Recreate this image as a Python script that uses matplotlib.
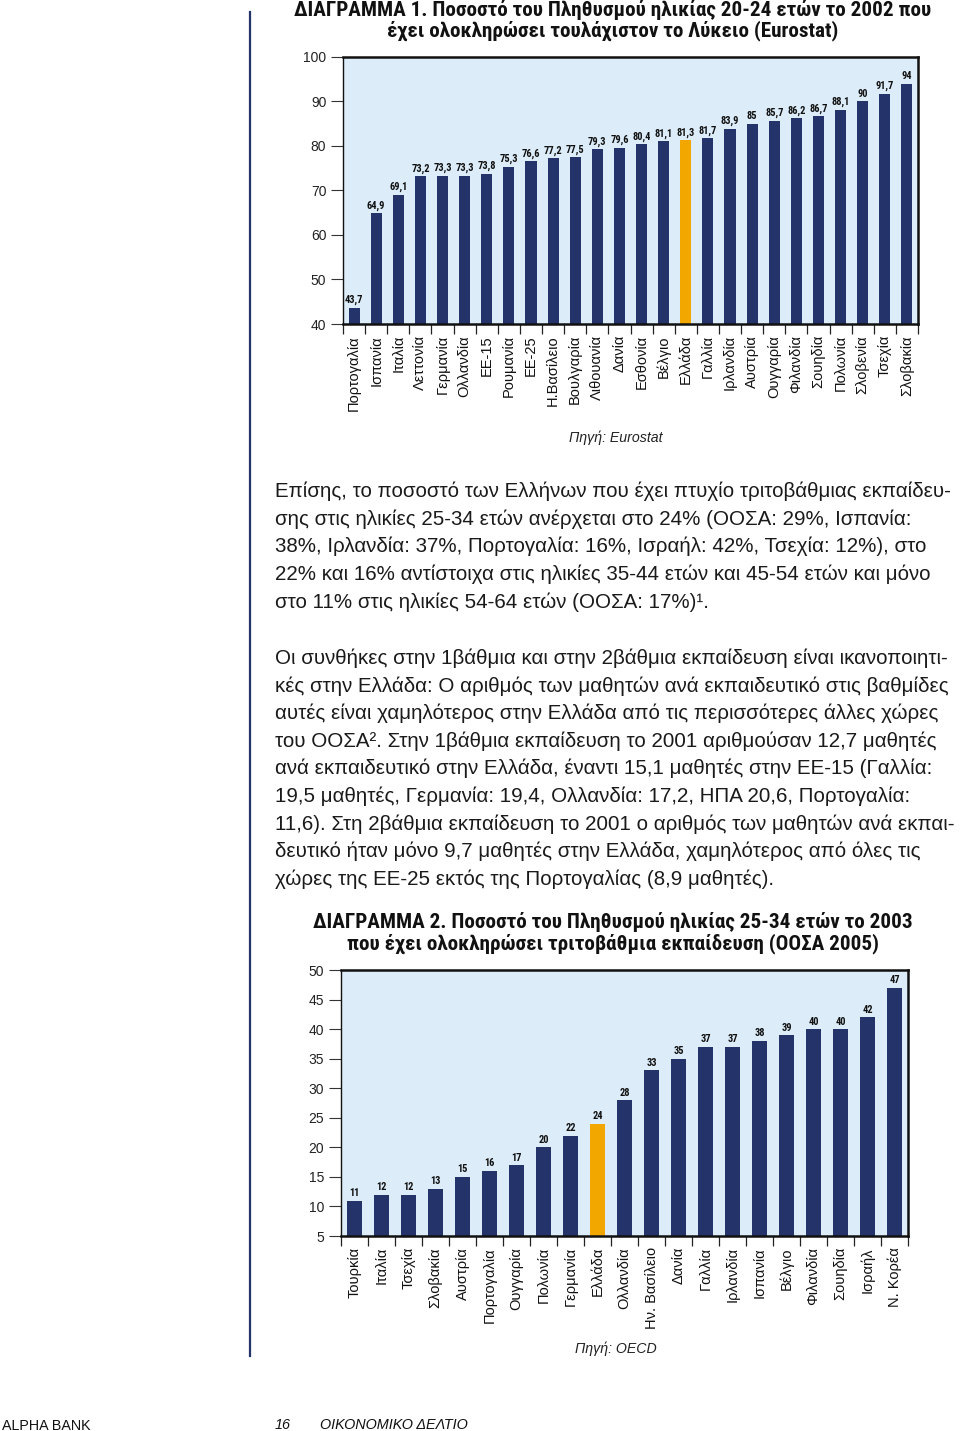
import matplotlib as mpl
mpl.use('Agg')
import matplotlib.pyplot as plt
from matplotlib.lines import Line2D
import numpy as np

W, H = 960, 1431
NAVY = '#25336b'
ORANGE = '#f2a600'
BG = '#dcedf9'
BODY = ['Liberation Sans', 'DejaVu Sans']
NARROW = ['Roboto Condensed', 'DejaVu Sans']

# chart 1: 20-24, at least upper secondary (Eurostat, 2002)
countries1 = ['Πορτογαλία', 'Ισπανία', 'Ιταλία', 'Λεττονία', 'Γερμανία', 'Ολλανδία',
              'ΕΕ-15', 'Ρουμανία', 'ΕΕ-25', 'Η.Βασίλειο', 'Βουλγαρία', 'Λιθουανία',
              'Δανία', 'Εσθονία', 'Βέλγιο', 'Ελλάδα', 'Γαλλία', 'Ιρλανδία', 'Αυστρία',
              'Ουγγαρία', 'Φιλανδία', 'Σουηδία', 'Πολωνία', 'Σλοβενία', 'Τσεχία', 'Σλοβακία']
values1 = [43.7, 64.9, 69.1, 73.2, 73.3, 73.3, 73.8, 75.3, 76.6, 77.2, 77.5, 79.3, 79.6,
           80.4, 81.1, 81.3, 81.7, 83.9, 85, 85.7, 86.2, 86.7, 88.1, 90, 91.7, 94]

# chart 2: 25-34, tertiary (OECD 2005, year 2003)
countries2 = ['Τουρκία', 'Ιταλία', 'Τσεχία', 'Σλοβακία', 'Αυστρία', 'Πορτογαλία',
              'Ουγγαρία', 'Πολωνία', 'Γερμανία', 'Ελλάδα', 'Ολλανδία', 'Ην. Βασίλειο',
              'Δανία', 'Γαλλία', 'Ιρλανδία', 'Ισπανία', 'Βέλγιο', 'Φιλανδία', 'Σουηδία',
              'Ισραήλ', 'Ν. Κορέα']
values2 = [11, 12, 12, 13, 15, 16, 17, 20, 22, 24, 28, 33, 35, 37, 37, 38, 39, 40, 40, 42, 47]

highlight = 'Ελλάδα'

title1 = ['ΔΙΑΓΡΑΜΜΑ 1. Ποσοστό του Πληθυσμού ηλικίας 20-24 ετών το 2002 που',
          'έχει ολοκληρώσει τουλάχιστον το Λύκειο (Eurostat)']
title2 = ['ΔΙΑΓΡΑΜΜΑ 2. Ποσοστό του Πληθυσμού ηλικίας 25-34 ετών το 2003',
          'που έχει ολοκληρώσει τριτοβάθμια εκπαίδευση (ΟΟΣΑ 2005)']

para1 = ['Επίσης, το ποσοστό των Ελλήνων που έχει πτυχίο τριτοβάθμιας εκπαίδευ-',
         'σης στις ηλικίες 25-34 ετών ανέρχεται στο 24% (ΟΟΣΑ: 29%, Ισπανία:',
         '38%, Ιρλανδία: 37%, Πορτογαλία: 16%, Ισραήλ: 42%, Τσεχία: 12%), στο',
         '22% και 16% αντίστοιχα στις ηλικίες 35-44 ετών και 45-54 ετών και μόνο',
         'στο 11% στις ηλικίες 54-64 ετών (ΟΟΣΑ: 17%)¹.']
para2 = ['Οι συνθήκες στην 1βάθμια και στην 2βάθμια εκπαίδευση είναι ικανοποιητι-',
         'κές στην Ελλάδα: Ο αριθμός των μαθητών ανά εκπαιδευτικό στις βαθμίδες',
         'αυτές είναι χαμηλότερος στην Ελλάδα από τις περισσότερες άλλες χώρες',
         'του ΟΟΣΑ². Στην 1βάθμια εκπαίδευση το 2001 αριθμούσαν 12,7 μαθητές',
         'ανά εκπαιδευτικό στην Ελλάδα, έναντι 15,1 μαθητές στην ΕΕ-15 (Γαλλία:',
         '19,5 μαθητές, Γερμανία: 19,4, Ολλανδία: 17,2, ΗΠΑ 20,6, Πορτογαλία:',
         '11,6). Στη 2βάθμια εκπαίδευση το 2001 ο αριθμός των μαθητών ανά εκπαι-',
         'δευτικό ήταν μόνο 9,7 μαθητές στην Ελλάδα, χαμηλότερος από όλες τις',
         'χώρες της ΕΕ-25 εκτός της Πορτογαλίας (8,9 μαθητές).']


def box(x0, y0, x1, y1):
    return [x0 / W, 1 - y1 / H, (x1 - x0) / W, (y1 - y0) / H]


def fy(y):
    return 1 - y / H


def fmt(v):
    return ('%g' % v).replace('.', ',')


def bar_chart(ax, names, vals, ymin, ymax, step, width):
    n = len(names)
    x = np.arange(n)
    colors = [ORANGE if c == highlight else NAVY for c in names]
    ax.set_facecolor(BG)
    ax.bar(x, [v - ymin for v in vals], bottom=ymin, width=width, color=colors, zorder=2)
    for i, v in enumerate(vals):
        ax.annotate(fmt(v), (i, v), xytext=(0, 1.8), textcoords='offset points',
                    ha='center', va='bottom', fontsize=7.5, fontweight='bold',
                    family=NARROW, color='#111111')
    ax.set_xlim(-0.5, n - 0.5)
    ax.set_ylim(ymin, ymax)
    ax.set_yticks(np.arange(ymin, ymax + 0.1, step))
    ax.set_xticks(x)
    ax.set_xticklabels(names, rotation=90, fontsize=10.5, family=BODY, color='#111111')
    ax.set_xticks(np.arange(n + 1) - 0.5, minor=True)
    ax.tick_params(axis='x', which='major', length=0, pad=8)
    ax.tick_params(axis='x', which='minor', length=7, width=0.9, color='#222222')
    ax.tick_params(axis='y', length=9, width=0.8, color='#333333', labelsize=10,
                   labelcolor='#222222', pad=3)
    for lab in ax.get_yticklabels():
        lab.set_family(BODY)
    for s in ax.spines.values():
        s.set_color('#111111')
        s.set_linewidth(1.8)
    ax.spines['left'].set_linewidth(1.0)


fig = plt.figure(figsize=(W / 100, H / 100), dpi=100)

# left rule of the page
fig.add_artist(Line2D([250 / W, 250 / W], [fy(12), fy(1356)], transform=fig.transFigure,
                      color=NAVY, lw=1.6))

for i, line in enumerate(title1):
    fig.text(613 / W, fy(10 + 21 * i), line, ha='center', va='center', fontsize=15.2,
             fontweight='heavy', family=NARROW, color='#111111')

ax1 = fig.add_axes(box(343, 57, 918, 324))
bar_chart(ax1, countries1, values1, 40, 100, 10, 0.5)
fig.text(616 / W, fy(438), 'Πηγή: Eurostat', ha='center', va='center', fontsize=10.2,
         style='italic', family=BODY, color='#222222')

for i, line in enumerate(para1):
    fig.text(275 / W, fy(497 + 27.7 * i), line, ha='left', va='baseline', fontsize=14.8,
             family=BODY, color='#1a1a1a')
for i, line in enumerate(para2):
    fig.text(275 / W, fy(664 + 27.6 * i), line, ha='left', va='baseline', fontsize=14.8,
             family=BODY, color='#1a1a1a')

for i, line in enumerate(title2):
    fig.text(613 / W, fy(922 + 22 * i), line, ha='center', va='center', fontsize=15.2,
             fontweight='heavy', family=NARROW, color='#111111')

ax2 = fig.add_axes(box(341, 970, 908, 1236))
bar_chart(ax2, countries2, values2, 5, 50, 5, 0.55)
fig.text(616 / W, fy(1349), 'Πηγή: OECD', ha='center', va='center', fontsize=10.2,
         style='italic', family=BODY, color='#222222')

# footer
fig.text(2 / W, fy(1426), 'ALPHA BANK', ha='left', va='center', fontsize=10.3,
         family=BODY, color='#111111')
fig.text(275 / W, fy(1425), '16', ha='left', va='center', fontsize=10.4,
         style='italic', family=BODY, color='#111111')
fig.text(320 / W, fy(1425), 'ΟΙΚΟΝΟΜΙΚΟ ΔΕΛΤΙΟ', ha='left', va='center', fontsize=10.4,
         style='italic', family=BODY, color='#111111')

fig.savefig('out.png', dpi=100, facecolor='white')
